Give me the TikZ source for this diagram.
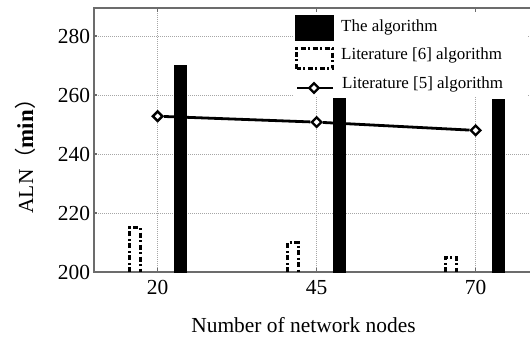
\documentclass[tikz,border=0pt]{standalone}
\usepackage{fontspec}
\setmainfont{Liberation Serif}
\newfontfamily\cjk{Noto Sans CJK SC}
\usepackage{tikz}
\usetikzlibrary{shapes.geometric}

\tikzset{
  gridline/.style={gray!70, line width=0.6bp, dash pattern=on 1bp off 1bp},
  axisline/.style={gray!85!black, line width=1.1bp},
  ourbar/.style={fill=black, draw=black, line width=0.5bp},
  litbar/.style={draw=black, line width=3bp, dash pattern=on 5bp off 2.5bp on 2bp off 2.5bp},
  marker/.style={diamond, draw=black, line width=2.4bp, fill=white, inner sep=0pt, minimum size=10.5bp},
  ticklabel/.style={font=\fontsize{21.5}{24}\selectfont, inner sep=0pt},
  legendtext/.style={font=\fontsize{17}{20}\selectfont, inner sep=0pt, anchor=west}
}

\begin{document}
\begin{tikzpicture}[x=1bp,y=1bp]
\useasboundingbox (0,0) rectangle (530,337);
\begin{scope}[shift={(30.4,-525)}, x=6.36bp, y=2.95bp]
% grid
\foreach \v in {220,240,260,280} \draw[gridline] (10,\v) -- (78.6,\v);
\foreach \n in {20,45,70} \draw[gridline] (\n,200) -- (\n,289.5);
\end{scope}
% legend background
\fill[white] (294,240) rectangle (527,329);
\begin{scope}[shift={(30.4,-525)}, x=6.36bp, y=2.95bp]
% axes frame
\draw[axisline] (78.6,289.5) -- (10,289.5) -- (10,200) -- (78.6,200);
\foreach \v in {220,240,260,280} \draw[axisline] (10,\v) -- (10.45,\v);
\foreach \n in {20,45,70} {
  \draw[axisline] (\n,200) -- (\n,201.2);
  \draw[axisline] (\n,289.5) -- (\n,288.3);
}
% tick labels
\foreach \v in {200,220,240,260,280}
  \node[ticklabel, anchor=east] (y\v) at (9.4,\v) {\v};
\foreach \n in {20,45,70}
  \node[ticklabel] (x\n) at (\n,194.7) {\n};
% bars: the algorithm
\draw[ourbar] (22.55,200) rectangle (24.45,270);
\draw[ourbar] (47.65,200) rectangle (49.55,259);
\draw[ourbar] (72.55,200) rectangle (74.45,258.5);
% bars: literature [6]
\draw[litbar] (15.55,200) -- (15.55,215) -- (17.25,215) -- (17.25,200);
\draw[litbar] (40.45,200) -- (40.45,210) -- (42.15,210) -- (42.15,200);
\draw[litbar] (65.3,200) -- (65.3,205) -- (67,205) -- (67,200);
% literature [5]
\node[marker] (d20) at (20,252.8) {};
\node[marker] (d45) at (45,250.8) {};
\node[marker] (d70) at (70,248) {};
\draw[line width=2.8bp] (d20) -- (d45) -- (d70);
\end{scope}
% legend
\fill[black] (295,296) rectangle (334,322);
\draw[litbar] (296.5,268.5) rectangle (332.5,288.5);
\draw[line width=2.8bp] (297,249) -- (333,249);
\node[marker] (legmark) at (314,249) {};
\node[legendtext] (leg1) at (341,310) {The algorithm};
\node[legendtext] (leg2) at (341,281.5) {Literature [6] algorithm};
\node[legendtext] (leg3) at (342,252.5) {Literature [5] algorithm};
% axis titles
\node[ticklabel] (xtitle) at (303.5,12) {Number of network nodes};
\node[ticklabel, rotate=90] (ytitle) at (25,186) {ALN{\cjk （}{\fontsize{23}{26}\selectfont\bfseries min}{\cjk ）}};
\end{tikzpicture}
\end{document}
